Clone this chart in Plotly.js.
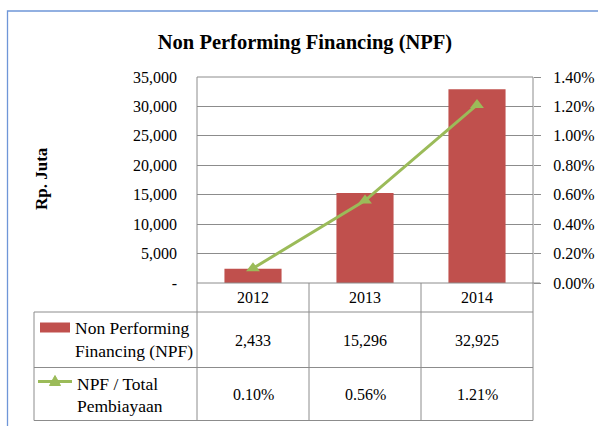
<!DOCTYPE html>
<html>
<head>
<meta charset="utf-8">
<script src="https://cdn.plot.ly/plotly-3.0.1.min.js"></script>
<style>html,body{margin:0;padding:0;background:#fff;}#chart{width:598px;height:426px;}</style>
</head>
<body>
<div id="chart"></div>
<script>
// ---- data ----
const years = ['2012', '2013', '2014'];
const npfValues = [2433, 15296, 32925];
const npfRatio = [0.0010, 0.0056, 0.0121];
const npfValueLabels = ['2,433', '15,296', '32,925'];
const npfRatioLabels = ['0.10%', '0.56%', '1.21%'];
const leftTickVals = [0, 5000, 10000, 15000, 20000, 25000, 30000, 35000];
const leftTickText = ['-', '5,000', '10,000', '15,000', '20,000', '25,000', '30,000', '35,000'];
const rightTickVals = [0, 0.002, 0.004, 0.006, 0.008, 0.010, 0.012, 0.014];
const seriesNames = [['Non Performing', 'Financing (NPF)'], ['NPF / Total', 'Pembiayaan']];

// ---- geometry helpers ----
const W = 598, H = 426;
const L = 197, R = 533, T = 77, B = 283;
const PW = R - L, PH = B - T;
const xp = px => (px - L) / PW;
const yp = py => (B - py) / PH;

const FONT = '"Liberation Serif", serif';
const GRID = '#8c8c8c';
const RED = '#C0504D';
const GREEN = '#9BBB59';

const traces = [
  {
    type: 'bar', x: years, y: npfValues, name: 'Non Performing Financing (NPF)',
    marker: {color: RED}, width: 0.51, yaxis: 'y', hoverinfo: 'skip'
  },
  {
    type: 'scatter', mode: 'lines+markers', x: years, y: npfRatio, name: 'NPF / Total Pembiayaan',
    yaxis: 'y2', line: {color: GREEN, width: 3},
    marker: {symbol: 'triangle-up', size: 12, color: GREEN}, hoverinfo: 'skip'
  }
];

function hline(y, x0, x1, color, w) {
  return {type: 'line', xref: 'paper', yref: 'paper', x0: xp(x0), x1: xp(x1), y0: yp(y), y1: yp(y),
          line: {color: color || GRID, width: w || 1}, layer: 'above'};
}
function vline(x, y0, y1, color, w) {
  return {type: 'line', xref: 'paper', yref: 'paper', x0: xp(x), x1: xp(x), y0: yp(y0), y1: yp(y1),
          line: {color: color || GRID, width: w || 1}, layer: 'above'};
}

const rowTop = 312, rowMid = 367.5, rowBot = 420.5;
const shapes = [
  // outer border
  {type: 'path', xref: 'paper', yref: 'paper',
   path: `M ${xp(7.5)} ${yp(430)} L ${xp(7.5)} ${yp(11)} L ${xp(600)} ${yp(11)}`,
   line: {color: '#6F96D8', width: 1.3}},
  // plot frame & table
  hline(T, L, R), hline(B, L, R + 7),
  vline(L, T, rowBot), vline(R, T, rowBot),
  hline(rowTop, 34, R), hline(rowMid, 34, R), hline(rowBot, 34, R),
  vline(34, rowTop, rowBot),
  // legend keys
  {type: 'rect', xref: 'paper', yref: 'paper', x0: xp(40), x1: xp(70), y0: yp(332.5), y1: yp(322.5),
   fillcolor: RED, line: {width: 0}},
  hline(381.5, 38, 72, GREEN, 3),
  {type: 'path', xref: 'paper', yref: 'paper',
   path: `M ${xp(49.5)} ${yp(385.5)} L ${xp(60.5)} ${yp(385.5)} L ${xp(55)} ${yp(375.5)} Z`,
   fillcolor: GREEN, line: {color: GREEN, width: 1}}
];
// column separators in the table (category boundaries, via x axis scale)
[0.5, 1.5].forEach(c => shapes.push({type: 'line', xref: 'x', yref: 'paper', x0: c, x1: c,
  y0: yp(B), y1: yp(rowBot), line: {color: GRID, width: 1}, layer: 'above'}));

const annotations = [];
const tf = {family: FONT, size: 16, color: '#000'};
years.forEach((yr, i) => {
  annotations.push({xref: 'x', yref: 'paper', x: i, y: yp(297.5), text: yr, showarrow: false,
    font: tf, xanchor: 'center', yanchor: 'middle'});
  annotations.push({xref: 'x', yref: 'paper', x: i, y: yp(340), text: npfValueLabels[i], showarrow: false,
    font: tf, xanchor: 'center', yanchor: 'middle'});
  annotations.push({xref: 'x', yref: 'paper', x: i, y: yp(394.5), text: npfRatioLabels[i], showarrow: false,
    font: tf, xanchor: 'center', yanchor: 'middle'});
});
const lf = {family: FONT, size: 17.5, color: '#000'};
const labelRows = [[327.5, 350.5], [383.5, 406.5]];
const labelX = [73, 75];
seriesNames.forEach((lines, r) => {
  lines.forEach((t, k) => annotations.push({xref: 'paper', yref: 'paper', x: xp(labelX[r]), y: yp(labelRows[r][k]),
    text: t, showarrow: false, font: lf, xanchor: 'left', yanchor: 'middle'}));
});
annotations.push({xref: 'paper', yref: 'paper', x: xp(41), y: yp(179), text: '<b>Rp. Juta</b>', textangle: -90,
  showarrow: false, font: {family: FONT, size: 17, color: '#000'}, xanchor: 'center', yanchor: 'middle'});

const layout = {
  width: W, height: H,
  font: {family: FONT, color: '#000'},
  margin: {l: L, r: W - R, t: T, b: H - B, pad: 0},
  paper_bgcolor: '#fff', plot_bgcolor: '#fff',
  showlegend: false,
  title: {text: '<b>Non Performing Financing (NPF)</b>', font: {family: FONT, size: 20.5, color: '#000'},
    x: 305 / W, xref: 'container', xanchor: 'center', y: 1 - 41.5 / H, yref: 'container', yanchor: 'middle'},
  xaxis: {type: 'category', range: [-0.5, 2.5], showticklabels: false, showgrid: false, zeroline: false,
    showline: false, ticks: '', fixedrange: true},
  yaxis: {range: [0, 35000], tickvals: leftTickVals, ticktext: leftTickText, showgrid: true, gridcolor: GRID,
    gridwidth: 1, zeroline: false, showline: false, ticks: '', ticklabelstandoff: 19,
    tickfont: {family: FONT, size: 16, color: '#000'}},
  yaxis2: {range: [0, 0.014], tickvals: rightTickVals, tickformat: '.2%', overlaying: 'y', side: 'right',
    showgrid: false, zeroline: false, showline: false, ticks: 'outside', ticklen: 7, tickcolor: GRID,
    tickwidth: 1, ticklabelstandoff: 9, tickfont: {family: FONT, size: 16, color: '#000'}},
  shapes: shapes,
  annotations: annotations
};

Plotly.newPlot('chart', traces, layout, {staticPlot: true, displayModeBar: false});
</script>
</body>
</html>
